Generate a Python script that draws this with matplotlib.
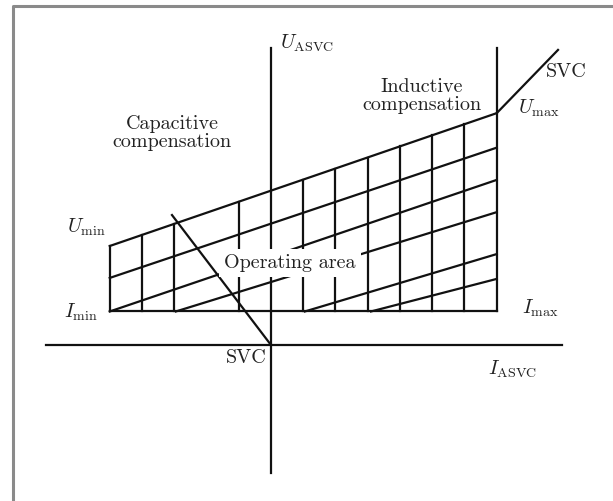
import matplotlib
matplotlib.use("Agg")
import matplotlib.pyplot as plt

plt.rcParams['mathtext.fontset'] = 'cm'
plt.rcParams['font.family'] = ['cmr10', 'DejaVu Serif']
plt.rcParams['axes.unicode_minus'] = False

# Рабочая область ASVC (I по горизонтали, U по вертикали, единица = шаг сетки)
I_min, I_max = -5, 7
U_low = 1.04                 # нижняя граница области (линия I_min - I_max)
U_min, U_max = 3.07, 7.19    # верхняя граница области

# вертикальные линии сетки и их верхние концы
grid_I = [-4, -3, -1, 1, 2, 3, 4, 5, 6]
grid_top = [3.41, 3.76, 4.44, 5.13, 5.47, 5.81, 6.16, 6.50, 6.85]

# наклонные линии: (I начала, U начала) -> (I конца, U конца)
slant_I0 = [-5, -5, -2.95, 1.05, 3.10]
slant_U0 = [2.08, U_low, U_low, U_low, U_low]
slant_I1 = [7, 7, 7, 7, 7]
slant_U1 = [6.12, 5.12, 4.12, 2.82, 2.05]

# характеристики SVC
svc_low_I = [-3.07, 0.0]
svc_low_U = [4.03, 0.0]
svc_high_I = [I_max, 8.9]
svc_high_U = [U_max, 9.15]

# оси
axis_I = [-6.98, 9.02]
axis_U = [-3.97, 9.21]

fig = plt.figure(figsize=(6.13, 5.01), dpi=100)
ax = fig.add_axes([0, 0, 1, 1])
ax.set_xlim(-8.403, 10.605)
ax.set_ylim(-4.837, 10.698)
ax.axis('off')

lc = '#111111'
lw = 1.6

# рамка картинки
ax.plot([0.0212, 0.0212, 1.0], [0.0, 0.989, 0.989], transform=ax.transAxes,
        color='#8a8a8a', lw=2.2, solid_capstyle='butt', clip_on=False)

# оси
ax.plot(axis_I, [0, 0], color=lc, lw=lw)
ax.plot([0, 0], axis_U, color=lc, lw=lw)

# граница области
ax.plot([I_min, I_max], [U_low, U_low], color=lc, lw=lw)
ax.plot([I_min, I_min], [U_low, U_min], color=lc, lw=lw)
ax.plot([I_min, I_max], [U_min, U_max], color=lc, lw=lw)
ax.plot([I_max, I_max], [U_low, axis_U[1]], color=lc, lw=lw)

# сетка
for gi, gt in zip(grid_I, grid_top):
    ax.plot([gi, gi], [U_low, gt], color=lc, lw=lw)
for i0, u0, i1, u1 in zip(slant_I0, slant_U0, slant_I1, slant_U1):
    ax.plot([i0, i1], [u0, u1], color=lc, lw=lw)

# SVC
ax.plot(svc_low_I, svc_low_U, color=lc, lw=lw)
ax.plot(svc_high_I, svc_high_U, color=lc, lw=lw)

fs = 14.5
tc = '#222222'
ax.text(0.28, 9.36, r'$U_{\mathrm{ASVC}}$', fontsize=fs, ha='left', va='center', color=tc)
ax.text(6.73, -0.74, r'$I_{\mathrm{ASVC}}$', fontsize=fs, ha='left', va='center', color=tc)
ax.text(-3.07, 6.57, 'Capacitive\ncompensation', fontsize=fs, ha='center',
        va='center', multialignment='center', linespacing=1.05, color=tc)
ax.text(4.68, 7.72, 'Inductive\ncompensation', fontsize=fs, ha='center',
        va='center', multialignment='center', linespacing=1.05, color=tc)
ax.text(9.15, 8.47, 'SVC', fontsize=fs, ha='center', va='center', color=tc)
ax.text(-0.15, -0.40, 'SVC', fontsize=fs, ha='right', va='center', color=tc)
ax.text(7.66, 7.35, r'$U_{\max}$', fontsize=fs, ha='left', va='center', color=tc)
ax.text(-6.33, 3.66, r'$U_{\min}$', fontsize=fs, ha='left', va='center', color=tc)
ax.text(-6.42, 1.02, r'$I_{\min}$', fontsize=fs, ha='left', va='center', color=tc)
ax.text(7.78, 1.15, r'$I_{\max}$', fontsize=fs, ha='left', va='center', color=tc)
ax.text(0.59, 2.54, 'Operating area', fontsize=fs, ha='center', va='center',
        zorder=5, color=tc,
        bbox=dict(boxstyle='square,pad=0.25', fc='white', ec='none'))

fig.savefig('out.png', dpi=100, facecolor='white')
